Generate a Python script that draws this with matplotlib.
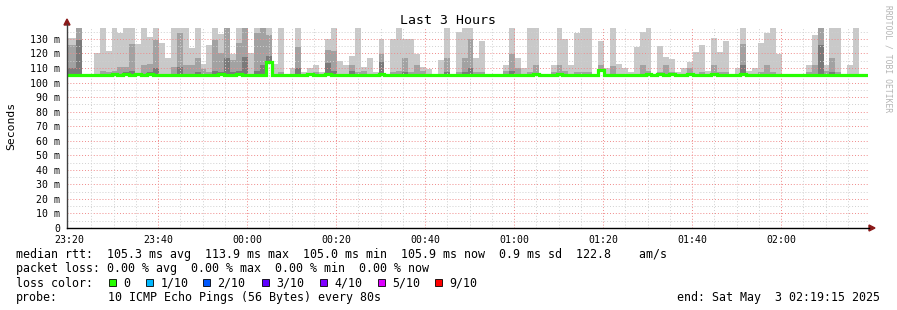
import numpy as np
import matplotlib
matplotlib.use("Agg")
import matplotlib.pyplot as plt
from matplotlib.patches import Rectangle, Polygon

# ---------------- data ----------------
title = "Last 3 Hours"
start_min = -1.11          # first 80 s step, minutes after 23:20
step_min = 80 / 60.0

rtt_hi = [130.5,130.5,137.5,105,105,120,137.5,122,137.5,134,
          137.5,137.5,126.5,137.5,131.6,137.5,127,117,137.5,137.5,
          137.5,124,137.5,112.8,126,137.5,133.4,137.5,119.7,137.5,
          137.5,120,137.5,137.5,137.5,112.8,137.5,105,110,137.5,
          107,110,112.3,107,130,137.5,115,112,118.5,137.5,
          110.5,117,107.5,130,105,130,137.5,130,130,119.5,
          110.5,109,105,115.5,137.5,106,134.8,137.5,137.5,117,
          128.4,105,105,106,112,137.5,117,110,137.5,137.5,
          106,106,112,137.5,130,112,134,137.5,137.5,105,
          128.8,110,137.5,112.8,110,107,124.7,135,137.5,105,
          125,117.4,116,107,110,114,120.8,126,108,130.7,
          121,128.4,105,110,137.5,108,110,127,134,137.5,
          119.5,106,105.5,105,106,112,133,137.5,112,137.5,
          137.5,105,112,137.5,105,105]
rtt_mid = [126,126,137.5,105,105,106,108,107,108,111,
           111,126.5,106,112,112.8,129,106,106,111,134,
           112,112,117,109,107,129,120,137.5,115.5,127,
           137.5,106,134,137.5,133,106,107,105,106,124.7,
           105,106,107,105,122.4,122,106,106,112,107,
           108,106,105,119.7,105,107,108,117,107,112,
           108,106,105,106,117,105,107,117,130,107,
           107,105,105,105,108,119.3,110,106,107,112,
           105,105,107,112,108,106,107,107,107,105,
           112,106,111.6,106,106,105,106,112,108,105,
           107,112,107,105,106,110,106,107,105,112,
           107,107,105,106,126.5,106,106,107,112,107,
           106,105,105,105,105,107,112,137.5,108,117,
           107,105,106,106,105,105]
rtt_low = [110,110,129,105,105,105,106,105,106,106,
           107,108,105,106,107,110,105,105,106,111,
           106,106,107,106,105,108,107,117,107,108,
           117.8,105,108,112,118,105,105,105,105,110,
           105,105,105,105,113.5,108,105,105,108,105,
           105,105,105,115,105,105,105,107,105,106,
           106,105,105,105,107,105,105,107,110,105,
           105,105,105,105,105,108,106,105,105,106,
           105,105,105,106,105,105,105,105,105,105,
           109,105,106,105,105,105,105,106,106,105,
           105,106,105,105,105,106,105,105,105,106,
           105,105,105,105,112,105,105,105,106,105,
           105,105,105,105,105,105,106,126,105,107,
           105,105,105,105,105,105]
rtt_median = [105.2,105.2,105.0,105.0,105.0,105.0,105.4,105.4,105.6,105.2,
              105.6,105.4,105.6,105.2,105.6,105.0,105.4,105.4,105.0,105.4,
              105.4,105.0,105.2,105.4,105.0,105.4,105.6,105.4,105.4,105.6,
              105.2,105.4,105.0,105.2,113.9,105.2,105.2,105.2,105.2,105.4,
              105.0,105.6,105.4,105.4,105.6,105.2,105.0,105.2,105.4,105.2,
              105.4,105.2,105.2,105.6,105.2,105.0,105.2,105.4,105.2,105.2,
              105.4,105.2,105.2,105.2,105.4,105.0,105.2,105.2,105.4,105.2,
              105.2,105.2,105.2,105.4,105.4,105.2,105.0,105.2,105.4,105.6,
              105.2,105.4,105.2,105.6,105.0,105.0,105.2,105.2,105.2,105.4,
              108.5,105.2,105.2,105.0,105.0,105.0,105.0,105.2,105.6,105.4,
              105.6,105.4,105.6,105.2,105.2,105.6,105.4,105.4,105.2,105.6,
              105.4,105.2,105.0,105.0,105.6,105.2,105.2,105.4,105.4,105.2,
              105.2,105.2,105.2,105.0,105.0,105.2,105.2,105.4,105.2,105.4,
              105.2,105.0,105.2,105.0,105.4,105.4]

x_tick_min = [0, 20, 40, 60, 80, 100, 120, 140, 160]
x_tick_labels = ["23:20", "23:40", "00:00", "00:20", "00:40", "01:00", "01:20", "01:40", "02:00"]
y_ticks = list(range(0, 140, 10))
y_tick_labels = ["0"] + ["%d m" % v for v in y_ticks[1:]]

legend_line1 = "median rtt:  105.3 ms avg  113.9 ms max  105.0 ms min  105.9 ms now  0.9 ms sd  122.8    am/s"
legend_line2 = "packet loss: 0.00 % avg  0.00 % max  0.00 % min  0.00 % now"
loss_labels = ["0", "1/10", "2/10", "3/10", "4/10", "5/10", "9/10"]
loss_colors = ["#26ff00", "#00b8ff", "#0059ff", "#5e00ff", "#7e00ff", "#dd00ff", "#ff0000"]
probe_text = "10 ICMP Echo Pings (56 Bytes) every 80s"
end_text = "end: Sat May  3 02:19:15 2025"

# ---------------- figure ----------------
W, H = 897, 310
fig = plt.figure(figsize=(W / 100, H / 100), dpi=100)
fig.patch.set_facecolor("white")
MONO = "DejaVu Sans Mono"

px_l, px_r, px_t, px_b = 67, 868, 28, 228
ax = fig.add_axes([px_l / W, 1 - px_b / H, (px_r - px_l) / W, (px_b - px_t) / H])
ax.set_xlim(-0.45, 179.55)
ax.set_ylim(0, 137.5)
for s in ax.spines.values():
    s.set_visible(False)

n = len(rtt_hi)
xl = start_min + step_min * np.arange(n)
med = np.array(rtt_median)
lo = med - 1.0
for vals, col in [(rtt_hi, "#c9c9c9"), (rtt_mid, "#a2a2a2"), (rtt_low, "#7a7a7a")]:
    top = np.maximum(np.array(vals), med)
    ax.bar(xl, top - lo, bottom=lo, width=step_min, align="edge",
           color=col, linewidth=0, zorder=2)

# grid (drawn on top as rrdtool does)
for v in np.arange(5, 137.5, 10):
    ax.axhline(v, color="#d0d0d0", lw=0.7, ls=(0, (1, 2)), zorder=3)
for v in y_ticks[1:]:
    ax.axhline(v, color="#f08a8a", lw=0.7, ls=(0, (1, 2)), zorder=3)
for v in np.arange(0, 180, 5):
    if v % 20 != 0:
        ax.axvline(v, color="#d0d0d0", lw=0.7, ls=(0, (1, 2)), zorder=3)
for v in x_tick_min:
    if v > 0:
        ax.axvline(v, color="#f08a8a", lw=0.7, ls=(0, (1, 2)), zorder=3)

edges = np.append(xl, xl[-1] + step_min)
ax.stairs(med, edges, baseline=None, color="#26ff00", lw=2.3, zorder=4)

ax.set_xticks(x_tick_min)
ax.set_xticklabels(x_tick_labels, fontfamily=MONO, fontsize=7.1)
ax.set_yticks(y_ticks)
ax.set_yticklabels(y_tick_labels, fontfamily=MONO, fontsize=7.1)
ax.tick_params(axis="x", length=0, pad=5)
ax.tick_params(axis="y", length=0, pad=5)

# ---------------- overlay in pixel coordinates ----------------
ov = fig.add_axes([0, 0, 1, 1])
ov.set_xlim(0, W)
ov.set_ylim(H, 0)
ov.axis("off")

ov.plot([67, 67], [228, 24], color="#404040", lw=1)
ov.plot([67, 869], [228, 228], color="#000000", lw=1)
ov.add_patch(Polygon([(64, 25), (70, 25), (67, 19)], closed=True, color="#8b1a1a"))
ov.add_patch(Polygon([(869, 225), (869, 231), (875, 228)], closed=True, color="#8b1a1a"))

ov.text(448, 24, title, fontfamily=MONO, fontsize=9.5, ha="center", va="baseline")
ov.text(11, 126, "Seconds", fontfamily=MONO, fontsize=8.2, rotation=90, ha="center", va="center")
ov.text(888, 59, "RRDTOOL / TOBI OETIKER", fontfamily=MONO, fontsize=5.8,
        rotation=-90, ha="center", va="center", color="#b4b4b4")

ov.text(16, 258.3, legend_line1, fontfamily=MONO, fontsize=8.4, va="baseline")
ov.text(16, 272.3, legend_line2, fontfamily=MONO, fontsize=8.4, va="baseline")
ov.text(16, 286.7, "loss color:", fontfamily=MONO, fontsize=8.4, va="baseline")
box_x = [109, 145.7, 203, 262, 320, 378, 435]
for bx, lab, col in zip(box_x, loss_labels, loss_colors):
    ov.add_patch(Rectangle((bx, 279), 7, 7, facecolor=col, edgecolor="black", lw=0.6))
    ov.text(bx + 14.5, 286.7, lab, fontfamily=MONO, fontsize=8.4, va="baseline")
ov.text(16, 301, "probe:", fontfamily=MONO, fontsize=8.4, va="baseline")
ov.text(107.7, 301, probe_text, fontfamily=MONO, fontsize=8.4, va="baseline")
ov.text(880, 301, end_text, fontfamily=MONO, fontsize=8.4, va="baseline", ha="right")

fig.savefig("out.png", dpi=100, facecolor="white")
